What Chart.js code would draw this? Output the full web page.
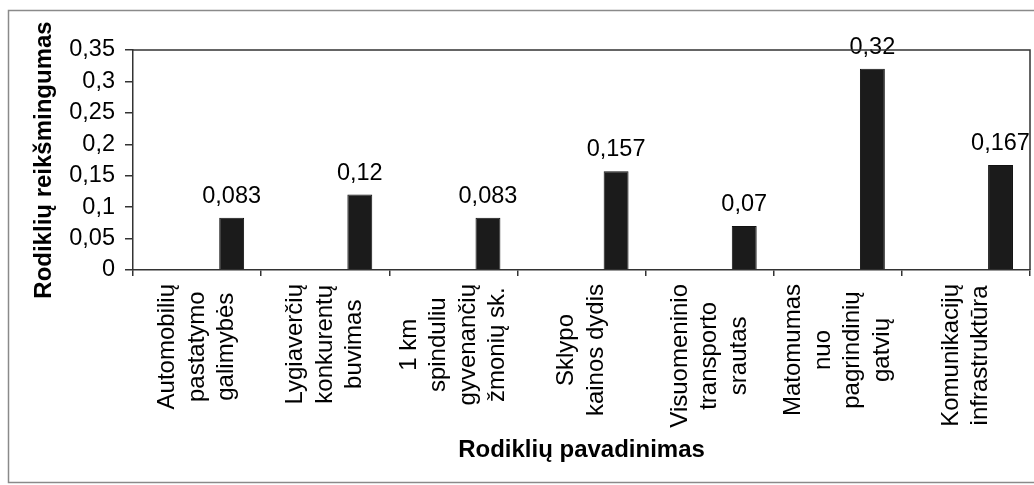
<!DOCTYPE html>
<html>
<head>
<meta charset="utf-8">
<script src="https://cdn.jsdelivr.net/npm/chart.js@4/dist/chart.umd.min.js"></script>
<style>
  html, body { margin: 0; padding: 0; background: #fff; }
  #wrap { position: relative; width: 1034px; height: 485px; }
</style>
</head>
<body>
<div id="wrap"><canvas id="c" width="1034" height="485"></canvas></div>
<script>
const categories = [
  ['Automobilių', 'pastatymo', 'galimybės'],
  ['Lygiaverčių', 'konkurentų', 'buvimas'],
  ['1 km', 'spinduliu', 'gyvenančių', 'žmonių sk.'],
  ['Sklypo', 'kainos dydis'],
  ['Visuomeninio', 'transporto', 'srautas'],
  ['Matomumas', 'nuo', 'pagrindinių', 'gatvių'],
  ['Komunikacijų', 'infrastruktūra']
];
const values = [0.083, 0.12, 0.083, 0.157, 0.07, 0.32, 0.167];
const emptySeries = [null, null, null, null, null, null, null];
const yTicks = { min: 0, max: 0.35, step: 0.05 };
const yTitle = 'Rodiklių reikšmingumas';
const xTitle = 'Rodiklių pavadinimas';

const FONT = '"Liberation Sans", Arial, sans-serif';
const fmt = v => String(+Number(v).toFixed(3)).replace('.', ',');

const framePlugin = {
  id: 'frame',
  beforeDraw(chart) {
    const ctx = chart.ctx;
    ctx.save();
    ctx.fillStyle = '#fff';
    ctx.fillRect(0, 0, chart.width, chart.height);
    ctx.strokeStyle = '#8a8a8a';
    ctx.lineWidth = 1.5;
    ctx.strokeRect(8.5, 10.5, 1040, 472);
    ctx.restore();
  },
  afterDraw(chart) {
    const a = chart.chartArea, ctx = chart.ctx;
    ctx.save();
    ctx.strokeStyle = '#333';
    ctx.lineWidth = 1.5;
    ctx.beginPath();
    ctx.moveTo(a.left, a.top);
    ctx.lineTo(a.right, a.top);
    ctx.lineTo(a.right, a.bottom);
    ctx.stroke();
    ctx.restore();
  }
};

const valueLabels = {
  id: 'valueLabels',
  afterDatasetsDraw(chart) {
    const ctx = chart.ctx;
    const meta = chart.getDatasetMeta(1);
    const data = chart.data.datasets[1].data;
    ctx.save();
    ctx.font = '23.5px ' + FONT;
    ctx.fillStyle = '#000';
    ctx.textAlign = 'center';
    ctx.textBaseline = 'alphabetic';
    meta.data.forEach((el, i) => {
      if (data[i] == null) return;
      ctx.fillText(fmt(data[i]), el.x, el.y - 15);
    });
    ctx.restore();
  }
};

const catLabels = {
  id: 'catLabels',
  afterDraw(chart) {
    const ctx = chart.ctx;
    const xs = chart.scales.x;
    const labels = xs.getLabels();
    const lh = 29.5;
    const pad = 14;
    ctx.save();
    ctx.font = '24px ' + FONT;
    ctx.fillStyle = '#000';
    ctx.textAlign = 'center';
    ctx.textBaseline = 'middle';
    labels.forEach((lines, i) => {
      const x = xs.getPixelForValue(i);
      const maxW = Math.max(...lines.map(l => ctx.measureText(l).width));
      ctx.save();
      ctx.translate(x, xs.top + pad);
      ctx.rotate(-Math.PI / 2);
      const n = lines.length;
      lines.forEach((l, k) => {
        ctx.fillText(l, -maxW / 2, (k - (n - 1) / 2) * lh);
      });
      ctx.restore();
    });
    ctx.restore();
  }
};

new Chart(document.getElementById('c'), {
  type: 'bar',
  data: {
    labels: categories,
    datasets: [
      { label: 'empty', data: emptySeries, backgroundColor: 'rgba(0,0,0,0)' },
      { label: 'Rodiklių reikšmingumas', data: values, backgroundColor: '#1b1b1b', borderColor: '#111', borderWidth: 1,
        categoryPercentage: 1.08, barPercentage: 0.36 }
    ]
  },
  options: {
    responsive: false,
    animation: false,
    devicePixelRatio: 1,
    datasets: { bar: { categoryPercentage: 1.08, barPercentage: 0.36 } },
    layout: { padding: { top: 50, right: 4, left: 0, bottom: 0 } },
    plugins: { legend: { display: false }, tooltip: { enabled: false } },
    scales: {
      x: {
        offset: true,
        grid: { display: true, offset: true, drawOnChartArea: false, drawTicks: true, tickLength: 6, color: '#333', lineWidth: 1.5 },
        border: { display: true, color: '#333', width: 1.5 },
        ticks: { display: false },
        title: { display: true, text: xTitle, color: '#000', font: { family: FONT, size: 24, weight: 'bold' }, padding: { top: 0, bottom: 20.6 } },
        afterFit(scale) { scale.height = 215; }
      },
      y: {
        min: yTicks.min, max: yTicks.max,
        grid: { display: true, drawOnChartArea: false, drawTicks: true, tickLength: 8, color: '#333', lineWidth: 1.5 },
        border: { display: true, color: '#333', width: 1.5 },
        ticks: { stepSize: yTicks.step, padding: 10, color: '#000', font: { family: FONT, size: 23.5 }, callback: v => fmt(v) },
        title: { display: true, text: yTitle, color: '#000', font: { family: FONT, size: 24, weight: 'bold' }, padding: { top: 30, bottom: 0 } },
        afterFit(scale) { scale.width = 133; }
      }
    }
  },
  plugins: [framePlugin, valueLabels, catLabels]
});
</script>
</body>
</html>
